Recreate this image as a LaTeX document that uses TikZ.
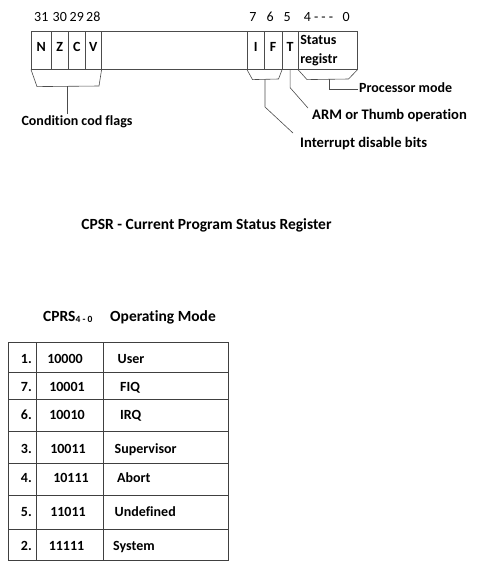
\documentclass[tikz,border=0pt]{standalone}
\usepackage{fontspec}
\setmainfont[Ligatures=NoCommon]{Carlito}
\usetikzlibrary{positioning}

\begin{document}
\begin{tikzpicture}[x=1pt, y=-1pt, font=\fontsize{14}{19}\selectfont\bfseries, node distance=8pt,
 cell/.style={draw=black!70, line width=.6pt, minimum height=38pt, inner sep=0pt, anchor=north west, text height=9pt, text depth=6pt},
 bitno/.style={font=\fontsize{14}{16}\selectfont, inner sep=1pt},
 txt/.style={inner sep=1pt, text height=10pt, text depth=3.5pt},
 note/.style={txt, anchor=west},
 num/.style={txt, anchor=east},
 big/.style={font=\fontsize{15.5}{19}\selectfont\bfseries},
 line/.style={draw=black!70, line width=.6pt},
 grid/.style={draw=black!75, line width=.8pt}]
\useasboundingbox (0,0) rectangle (479,582);
% register cells
\node[cell, minimum width=20pt] (N) at (31,31) {N};
\node[cell, minimum width=17pt] (Z) at (51,31) {Z};
\node[cell, minimum width=17pt] (C) at (68,31) {C};
\node[cell, minimum width=16pt] (V) at (85,31) {V};
\node[cell, minimum width=146pt] (unused) at (101,31) {};
\node[cell, minimum width=17pt] (I) at (247,31) {I};
\node[cell, minimum width=17.5pt] (F) at (264,31) {F};
\node[cell, minimum width=16.5pt] (T) at (281.5,31) {T};
\node[cell, minimum width=59pt, text width=55pt, inner xsep=2pt, align=left, text height=, text depth=] (mode) at (298,31) {Status\\registr};
% bit numbers
\node[bitno, above=of N] (b31) {31};
\node[bitno, above=of Z] (b30) {30};
\node[bitno, above=of C] (b29) {29};
\node[bitno, above=of V] (b28) {28};
\node[bitno, above=of I, xshift=-3pt] (b7) {7};
\node[bitno, above=of F, xshift=-3pt] (b6) {6};
\node[bitno, above=of T, xshift=-3pt] (b5) {5};
\node[bitno, above=of mode, xshift=-1pt] (b40) {4 - - -\ \ \ 0};
% field brackets
\draw[line] (N.south west) -- ++(6,17) -- (99,86) -- (V.south east);
\draw[line] (I.south west) -- ++(5.5,10) -- (278.5,79) -- (F.south east);
\draw[line] (mode.south west) -- ++(9,10) -- (348.5,79) -- (mode.south east);
\coordinate (cflag) at (67,86);
\coordinate (iflag) at (265,79);
\coordinate (mflag) at (329,79);
% field labels
\node[txt] (cond) at (77,122) {Condition cod flags};
\node[note] (proc) at (358,89.5) {Processor mode};
\node[note, font=\fontsize{14.6}{19}\selectfont\bfseries] (arm) at (311,116) {ARM or Thumb operation};
\node[note, font=\fontsize{14.6}{19}\selectfont\bfseries] (intr) at (299,144) {Interrupt disable bits};
\draw[line] (cflag) -- (cflag |- cond.north);
\draw[line] (mflag) |- (proc.west);
\draw[line] (T.south) -- ++(0,18) -- ([xshift=-3pt]arm.north west);
\draw[line] (iflag) -- ++(0,28) -- ([xshift=-6pt,yshift=3pt]intr.north west);
\node[txt, big] (title) at (206.5,226.5) {CPSR - Current Program Status Register};
% mode table
\node[note, big] (hdr) at (42,318) {CPRS\raisebox{-1pt}{\fontsize{9.5}{10}\selectfont 4 - 0}};
\node[note, big] (hdrmode) at (109,318) {Operating Mode};
\draw[grid] (8,342) rectangle (228,560);
\draw[grid] (36,342) -- (36,560) (103,342) -- (103,560);
\draw[grid] (8,372) -- (228,372) (8,399) -- (228,399) (8,431) -- (228,431)
 (8,463) -- (228,463) (8,495) -- (228,495) (8,529) -- (228,529);
\node[num] (n1) at (33,360.5) {1.};
\node[txt] (v1) at (65,360.5) {10000};
\node[note] (m1) at (116.5,360.5) {User};
\node[num] (n2) at (33,388.5) {7.};
\node[txt] (v2) at (67,388.5) {10001};
\node[note] (m2) at (119,388.5) {FIQ};
\node[num] (n3) at (33,416.5) {6.};
\node[txt] (v3) at (67,416.5) {10010};
\node[note] (m3) at (119,416.5) {IRQ};
\node[num] (n4) at (33,450.5) {3.};
\node[txt] (v4) at (68,450.5) {10011};
\node[note] (m4) at (113.5,450.5) {Supervisor};
\node[num] (n5) at (33,479.5) {4.};
\node[txt] (v5) at (71,479.5) {10111};
\node[note] (m5) at (116,479.5) {Abort};
\node[num] (n6) at (33,513.5) {5.};
\node[txt] (v6) at (68,513.5) {11011};
\node[note] (m6) at (113.5,513.5) {Undefined};
\node[num] (n7) at (33,547.5) {2.};
\node[txt] (v7) at (66.5,547.5) {11111};
\node[note] (m7) at (112,547.5) {System};
\end{tikzpicture}
\end{document}
